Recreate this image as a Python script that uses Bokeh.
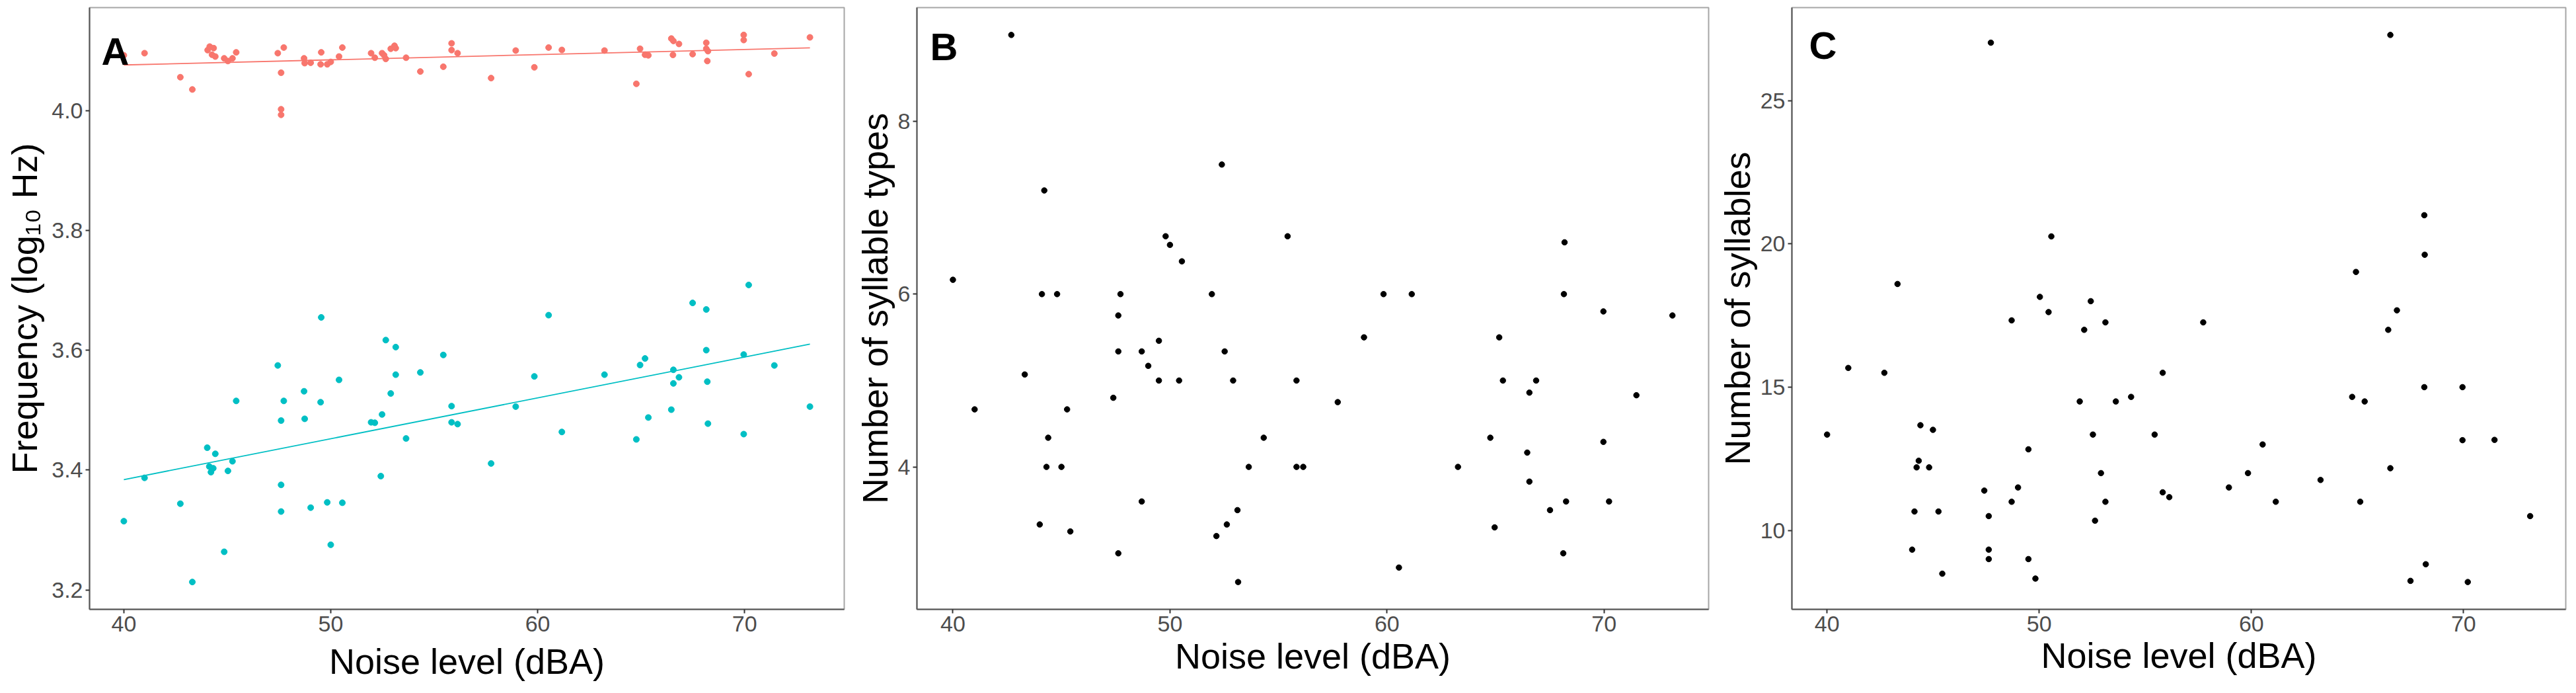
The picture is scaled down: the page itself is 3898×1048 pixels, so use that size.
from bokeh.plotting import figure
from bokeh.layouts import row
from bokeh.models import FixedTicker, PrintfTickFormatter, Range1d, Label
from bokeh.embed import file_html
from bokeh.resources import INLINE

# ---------------- data ----------------
x_ticks = [40, 50, 60, 70]
a_y_ticks = [3.2, 3.4, 3.6, 3.8, 4.0]
b_y_ticks = [4, 6, 8]
c_y_ticks = [10, 15, 20, 25]

x_title = "Noise level (dBA)"
a_y_title = "Frequency (log\u2081\u2080 Hz)"
b_y_title = "Number of syllable types"
c_y_title = "Number of syllables"

a_red_x = [40.0, 41.0, 42.73, 43.31, 44.05, 44.15, 44.34, 44.26, 44.42, 44.85, 45.03, 45.25, 45.43,
           47.44, 47.73, 47.6, 47.6, 47.6, 48.71, 48.74, 49.03, 49.54, 49.51, 49.83, 50.0, 50.4, 50.56,
           51.95, 52.13, 52.48, 52.58, 52.66, 52.9, 53.08, 53.14, 53.64, 54.33, 55.44, 55.84, 55.84, 56.13,
           57.75, 58.94, 59.84, 60.53, 61.17, 63.23, 64.77, 64.95, 65.19, 65.35, 66.46, 66.56, 66.83, 66.54,
           67.49, 68.15, 68.15, 68.23, 68.2, 69.96, 69.96, 70.2, 71.44, 73.16]
a_red_y = [4.092, 4.0956, 4.0555, 4.035, 4.1007, 4.1066, 4.104, 4.093, 4.09, 4.087, 4.0825, 4.087, 4.097,
           4.0956, 4.105, 4.063, 4.002, 3.9927, 4.087, 4.079, 4.0796, 4.097, 4.077, 4.077, 4.081, 4.09, 4.105,
           4.0956, 4.088, 4.0956, 4.092, 4.086, 4.103, 4.108, 4.104, 4.088, 4.065, 4.073, 4.112, 4.1007, 4.0956,
           4.054, 4.100, 4.072, 4.105, 4.101, 4.100, 4.0445, 4.103, 4.093, 4.092, 4.120, 4.116, 4.111, 4.0927,
           4.094, 4.113, 4.103, 4.099, 4.0825, 4.126, 4.1175, 4.0606, 4.095, 4.122]

a_cyan_x = [40.0, 41.0, 42.73, 43.31, 44.03, 44.13, 44.21, 44.32, 44.42, 44.85, 45.03, 45.25, 45.43,
            47.44, 47.6, 47.73, 47.6, 47.6, 48.71, 48.74, 49.03, 49.54, 49.51, 49.83, 50.0, 50.4, 50.56,
            51.95, 52.13, 52.48, 52.42, 52.66, 52.9, 53.14, 53.14, 53.64, 54.33, 55.44, 55.84, 55.84, 56.13,
            57.75, 58.94, 59.84, 60.53, 61.17, 63.23, 64.77, 64.95, 65.19, 65.35, 66.46, 66.56, 66.56, 66.83,
            67.49, 68.15, 68.15, 68.2, 68.23, 69.96, 69.96, 70.2, 71.44, 73.16]
a_cyan_y = [3.3146, 3.3869, 3.3438, 3.2131, 3.4372, 3.4058, 3.3964, 3.4029, 3.427, 3.2635, 3.3985, 3.4146, 3.5153,
            3.5745, 3.4825, 3.5153, 3.3752, 3.3307, 3.5314, 3.4854, 3.3372, 3.6547, 3.5131, 3.346, 3.2752, 3.5504, 3.3453,
            3.4796, 3.4788, 3.4927, 3.3898, 3.6168, 3.5277, 3.6051, 3.5591, 3.4526, 3.5628, 3.592, 3.5066, 3.4796, 3.4766,
            3.4109, 3.5058, 3.5562, 3.6584, 3.4635, 3.5591, 3.4511, 3.5752, 3.5861, 3.4876, 3.5007, 3.5672, 3.5445, 3.5547,
            3.6788, 3.6679, 3.6, 3.5474, 3.4774, 3.4599, 3.5927, 3.7088, 3.5745, 3.5058]

# fitted regression lines (values at the ends of the data range)
fit_x = [40.0, 73.16]
red_fit_y = [4.0759, 4.1044]
cyan_fit_y = [3.384, 3.610]

b_x = [42.69, 40.0, 41.0, 43.31, 44.21, 44.1, 44.8, 44.0, 44.31, 44.39, 45.0, 45.26, 45.41,
       47.39, 47.62, 47.72, 47.62, 47.62, 48.7, 48.7, 49.0, 49.49, 49.49, 49.8, 50.0, 50.42, 50.55,
       51.93, 52.14, 52.39, 52.52, 52.62, 52.91, 53.11, 53.14, 53.63, 54.32, 55.42, 55.83, 55.83, 56.14,
       57.73, 58.94, 59.84, 60.55, 61.14, 63.27, 64.76, 64.96, 65.17, 65.34, 66.46, 66.56, 66.56, 66.87,
       67.51, 68.18, 68.15, 68.25, 68.12, 69.97, 69.97, 70.23, 71.49, 73.15]
b_y = [9.0, 6.166, 4.666, 5.07, 7.2, 6.0, 6.0, 3.334, 4.0, 4.338, 4.0, 4.666, 3.253,
       4.8, 5.753, 6.0, 5.337, 3.0, 5.337, 3.6, 5.17, 5.46, 5.0, 6.67, 6.57, 5.0, 6.38,
       6.0, 3.2, 7.5, 5.337, 3.334, 5.0, 3.5, 2.668, 4.0, 4.338, 6.67, 5.0, 4.0, 4.0,
       4.75, 5.5, 6.0, 2.835, 6.0, 4.0, 4.338, 3.3, 5.5, 5.0, 4.166, 4.86, 3.83, 5.0,
       3.5, 6.6, 6.0, 3.6, 3.0, 5.8, 4.29, 3.6, 4.83, 5.753]

c_x = [40.0, 41.0, 42.7, 43.32, 44.01, 44.12, 44.22, 44.32, 44.4, 44.81, 44.99, 45.25, 45.43,
       47.41, 47.72, 47.62, 47.62, 47.62, 48.7, 48.7, 49.0, 49.49, 49.49, 49.82, 50.03, 50.44, 50.57,
       51.91, 52.12, 52.43, 52.53, 52.63, 52.91, 53.12, 53.12, 53.61, 54.33, 55.44, 55.82, 55.82, 56.13,
       57.73, 58.94, 59.84, 60.53, 61.15, 63.26, 64.75, 64.93, 65.13, 65.34, 66.45, 66.55, 66.55, 66.86,
       67.5, 68.15, 68.17, 68.15, 68.22, 69.95, 69.95, 70.2, 71.46, 73.14]
c_y = [13.345, 15.67, 15.5, 18.6, 9.33, 10.66, 12.2, 12.43, 13.67, 12.2, 13.51, 10.66, 8.49,
       11.39, 27.02, 10.5, 9.33, 9.0, 11.0, 17.33, 11.5, 12.83, 9.0, 8.32, 18.15, 17.62, 20.26,
       14.5, 17.0, 18.0, 13.345, 10.34, 12.0, 17.26, 11.0, 14.5, 14.66, 13.345, 15.5, 11.33, 11.16,
       17.26, 11.5, 12.0, 13.0, 11.0, 11.76, 14.66, 19.02, 11.0, 14.5, 17.0, 27.29, 12.17, 17.68,
       8.24, 21.0, 19.62, 15.0, 8.82, 15.0, 13.15, 8.2, 13.16, 10.5]

RED = "#F8766D"
CYAN = "#00BFC4"
FONT = "Liberation Sans"


def expand(vals):
    lo, hi = min(vals), max(vals)
    d = (hi - lo) * 0.05
    return lo - d, hi + d


def make_fig(width, height, left, right, top, bottom, yticks, yfmt, yvals, ytitle, xstand, ystand):
    xr = expand(a_red_x + a_cyan_x + b_x + c_x)
    yr = expand(yvals)
    p = figure(width=width, height=height, output_backend="svg", toolbar_location=None,
               x_range=Range1d(*xr), y_range=Range1d(*yr),
               min_border_left=left, min_border_right=right, min_border_top=top, min_border_bottom=bottom)
    p.background_fill_color = "white"
    p.border_fill_color = "white"
    p.grid.visible = False
    p.outline_line_color = "#a6a6a6"
    p.outline_line_width = 2
    for ax in (p.xaxis[0], p.yaxis[0]):
        ax.axis_line_color = "#555555"
        ax.axis_line_width = 2
        ax.major_tick_line_color = "#333333"
        ax.major_tick_line_width = 2
        ax.major_tick_out = 6
        ax.major_tick_in = 0
        ax.minor_tick_line_color = None
        ax.major_label_text_font = FONT
        ax.major_label_text_font_size = "34px"
        ax.major_label_text_color = "#4d4d4d"
        ax.major_label_standoff = 4
        ax.axis_label_text_font = FONT
        ax.axis_label_text_font_size = "54px"
        ax.axis_label_text_font_style = "normal"
        ax.axis_label_text_color = "black"
    p.xaxis.ticker = FixedTicker(ticks=x_ticks)
    p.yaxis.ticker = FixedTicker(ticks=yticks)
    p.xaxis.formatter = PrintfTickFormatter(format="%d")
    p.yaxis.formatter = PrintfTickFormatter(format=yfmt)
    p.xaxis.axis_label = x_title
    p.yaxis.axis_label = ytitle
    p.xaxis.axis_label_standoff = xstand
    p.yaxis.axis_label_standoff = ystand
    return p


def letter(p, txt, x, y):
    p.add_layout(Label(x=x, y=y, x_units="screen", y_units="screen", text=txt,
                       text_font=FONT, text_font_size="58px", text_font_style="bold",
                       text_color="black", text_baseline="alphabetic", text_align="left"))


H = 1032

# Panel A : frame 1142 x 918
pa = make_fig(1284, H, 135, 7, 3, 111, a_y_ticks, "%.1f", a_red_y + a_cyan_y, a_y_title, 12, 8)
pa.line(fit_x, red_fit_y, line_color=RED, line_width=1.8)
pa.line(fit_x, cyan_fit_y, line_color=CYAN, line_width=1.8)
pa.scatter(a_red_x, a_red_y, size=9, fill_color=RED, line_color=RED)
pa.scatter(a_cyan_x, a_cyan_y, size=9, fill_color=CYAN, line_color=CYAN)
letter(pa, "A", 18, 844)

# Panel B : frame 1198 x 924
pb = make_fig(1307, H, 103, 6, 5, 103, b_y_ticks, "%d", b_y, b_y_title, 4, 2)
pb.scatter(b_x, b_y, size=8.5, fill_color="black", line_color="black")
letter(pb, "B", 20, 851)

# Panel C : frame 1171 x 919
pc = make_fig(1293, H, 120, 2, 11, 102, c_y_ticks, "%d", c_y, c_y_title, 3, 2)
pc.scatter(c_x, c_y, size=8.5, fill_color="black", line_color="black")
letter(pc, "C", 26, 853)

layout = row(pa, pb, pc, spacing=0)
open("out.html", "w").write(file_html(layout, INLINE))
